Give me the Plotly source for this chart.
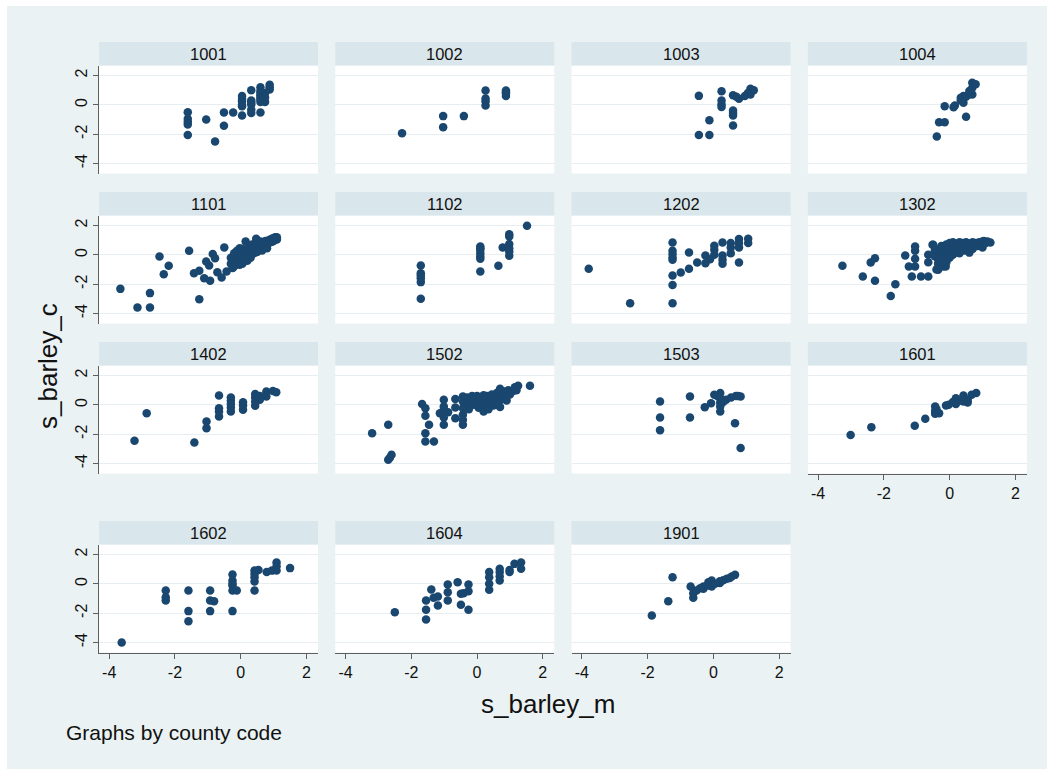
import plotly.graph_objects as go

counties = ["1001", "1002", "1003", "1004", "1101", "1102", "1202", "1302",
            "1402", "1502", "1503", "1601", "1602", "1604", "1901"]

x_1001 = [-1.61, -1.61, -1.61, -1.61, -1.61, -1.05, -0.78, -0.51, -0.51, -0.23, 0.04, 0.04, 0.04, 0.04, 0.04, 0.04,
          0.32, 0.32, 0.32, 0.32, 0.32, 0.32, 0.6, 0.6, 0.6, 0.6, 0.6, 0.6, 0.6, 0.6, 0.74, 0.74, 0.74, 0.88, 0.88, 0.88]
y_1001 = [-0.5, -0.95, -1.15, -1.34, -2.05, -1.0, -2.5, -0.52, -1.43, -0.52, 0.6, 0.25, -0.1, -0.73, 0.4, 0.0,
          1.0, 0.3, 0.02, -0.32, -0.55, 0.15, 1.2, 0.95, 0.65, 0.36, 0.2, -0.52, 0.8, 0.5, 0.8, 0.2, 0.5, 1.36, 1.05, 1.2]

x_1002 = [-2.28, -1.03, -1.03, -0.4, 0.26, 0.26, 0.26, 0.26, 0.88, 0.88, 0.88, 0.88]
y_1002 = [-1.93, -0.77, -1.52, -0.77, 0.98, 0.43, 0.25, -0.05, 0.98, 0.77, 0.6, 0.85]

x_1003 = [-0.44, -0.44, -0.12, -0.12, 0.25, 0.25, 0.25, 0.25, 0.6, 0.6, 0.6, 0.6, 0.6, 0.78, 0.96, 1.13, 1.13, 1.23, 0.7, 1.05]
y_1003 = [0.61, -2.05, -1.05, -2.05, 0.93, 0.3, 0.02, -0.14, 0.66, -0.39, -0.73, -1.41, -0.55, 0.41, 0.6, 1.09, 0.7, 1.0, 0.55, 0.8]

x_1004 = [-0.39, -0.32, -0.15, -0.15, 0.12, 0.16, 0.34, 0.34, 0.42, 0.42, 0.5, 0.59, 0.69, 0.69, 0.69, 0.79, 0.5, 0.6]
y_1004 = [-2.16, -1.18, -0.09, -1.18, -0.16, -0.05, 0.48, 0.32, 0.6, 0.14, -0.82, 0.7, 1.5, 1.16, 0.7, 1.4, 0.55, 0.95]

x_1101 = [-3.66, -3.14, -2.76, -2.76, -2.47, -2.34, -2.19, -1.57, -1.42, -1.26, -1.26, -1.11, -1.05, -0.96, -0.93,
          -0.85, -0.78, -0.71, -0.58, -0.5, -0.43, -0.23, -0.23, -0.23, -0.13, -0.13, -0.03, -0.03, -0.03,
          -0.3, -0.3, -0.25, -0.2, -0.2, -0.15, -0.1, -0.1, -0.05, 0.0, 0.0, 0.05, 0.05, 0.1, 0.1, 0.15, 0.15,
          0.2, 0.2, 0.25, 0.25, 0.3, 0.3, 0.35, 0.35, 0.4, 0.4, 0.45, 0.45, 0.47, 0.5, 0.5, 0.55, 0.55, 0.6, 0.6,
          0.65, 0.65, 0.7, 0.7, 0.75, 0.75, 0.8, 0.8, 0.85, 0.85, 0.9, 0.9, 0.95, 0.95, 1.0, 1.0, 1.05, 1.1, 1.1]
y_1101 = [-2.32, -3.59, -2.61, -3.59, -0.11, -1.32, -0.75, 0.27, -1.25, -1.09, -3.02, -1.59, -0.45, -0.73, -1.77,
          0.05, -0.23, -1.18, -1.55, 0.5, -1.14, -0.86, -0.5, -0.18, 0.23, -0.34, 0.45, -0.07, -0.68,
          -0.6, -0.2, -0.9, -0.4, 0.1, -0.7, -0.3, 0.3, -0.5, 0.0, -0.2, 0.4, -0.6, 0.1, -0.3, 0.9, -0.1,
          0.3, -0.4, 0.5, 0.0, 0.2, -0.2, 0.7, 0.4, 0.1, 0.55, 0.8, 0.3, 1.09, 0.5, 0.2, 0.7, 0.35, 0.9, 0.5,
          0.6, 0.3, 0.8, 0.55, 0.95, 0.65, 0.7, 0.45, 1.0, 0.8, 1.05, 0.85, 1.1, 0.9, 1.15, 0.95, 1.2, 1.2, 1.05]

x_1102 = [-1.71, -1.71, -1.71, -1.71, -1.71, -1.71, 0.1, 0.1, 0.1, 0.1, 0.1, 0.1, 0.1, 0.65, 0.78,
          0.98, 0.98, 0.98, 0.98, 0.98, 0.98, 1.52]
y_1102 = [-0.73, -1.25, -1.41, -1.86, -3.0, -1.6, 0.57, 0.34, 0.11, -0.11, -0.27, 0.45, -1.14, -0.75, 0.5,
          1.41, 1.25, 0.73, 0.45, 0.23, -0.07, 1.98]

x_1202 = [-3.79, -2.53, -1.24, -1.24, -1.24, -1.24, -1.24, -1.24, -1.24, -1.24, -0.99, -0.74, -0.74, -0.49,
          -0.24, -0.24, 0.03, 0.03, 0.03, 0.28, 0.28, 0.28, 0.28, 0.53, 0.53, 0.53, 0.78, 0.78, 0.78, 1.06, 1.06,
          0.78, -0.1]
y_1202 = [-0.95, -3.3, 0.84, 0.27, 0.05, -0.18, -0.34, -1.41, -2.05, -3.3, -1.2, 0.16, -0.95, -0.52,
          -0.05, -0.57, 0.61, 0.34, 0.0, 0.84, -0.05, -0.34, -0.61, 0.8, 0.5, 0.11, 1.07, 0.5, -0.52, 1.09, 0.8,
          0.8, -0.3]

x_1302 = [-3.26, -2.64, -2.4, -2.27, -2.27, -1.79, -1.65, -1.35, -1.24, -1.15, -1.05, -1.05, -1.05, -1.05,
          -0.87, -0.65, -0.65, -0.65, -0.52, -0.35, -0.12, 1.04, 1.24,
          -0.4, -0.35, -0.35, -0.3, -0.3, -0.25, -0.2, -0.2, -0.15, -0.1, -0.1, -0.05, 0.0, 0.0, 0.0, 0.05,
          0.1, 0.1, 0.1, 0.15, 0.2, 0.2, 0.25, 0.3, 0.3, 0.3, 0.35, 0.4, 0.4, 0.45, 0.5, 0.5, 0.55, 0.6, 0.6,
          0.65, 0.7, 0.7, 0.75, 0.8, 0.85, 0.9, 0.95, 1.0, 1.0, 1.1, 1.15, -0.5, -0.45, -0.45]
y_1302 = [-0.75, -1.48, -0.52, -0.23, -1.77, -2.8, -2.0, -0.05, -0.8, -1.48, 0.57, 0.27, -0.27, -0.8,
          -1.48, -1.48, -0.5, 0.0, 0.68, -1.02, -0.8, 0.95, 0.84,
          -1.0, -0.6, -0.3, 0.0, 0.4, 0.6, -0.8, -0.2, 0.2, 0.7, -0.5, 0.1, 0.8, 0.4, -0.2, 0.6,
          0.85, 0.3, 0.0, 0.5, 0.75, 0.2, 0.6, 0.85, 0.4, 0.1, 0.7, 0.5, 0.8, 0.3, 0.85, 0.6, 0.4, 0.75, 0.15,
          0.55, 0.85, 0.4, 0.65, 0.8, 0.6, 0.85, 0.7, 0.9, 0.5, 0.8, 0.9, 0.68, 0.3, -0.1]

x_1402 = [-3.23, -2.86, -1.41, -1.04, -1.04, -0.66, -0.66, -0.66, -0.66, -0.3, -0.3, -0.3, -0.3, -0.3,
          0.07, 0.07, 0.07, 0.44, 0.44, 0.44, 0.44, 0.58, 0.58, 0.78, 0.78, 0.98, 1.08]
y_1402 = [-2.45, -0.57, -2.57, -1.14, -1.59, 0.64, -0.23, -0.45, -0.8, 0.5, 0.27, 0.05, -0.18, -0.45,
          0.18, -0.05, -0.34, 0.73, 0.5, 0.23, -0.07, 0.61, 0.34, 0.91, 0.57, 0.95, 0.86]

x_1502 = [-3.19, -2.7, -2.7, -2.65, -2.6, -1.67, -1.57, -1.57, -1.57, -1.57, -1.46, -1.31, -1.13, -1.01, -1.01,
          -1.01, -1.01, -1.01, -0.88, -0.66, -0.66, -0.66, -0.43, -0.43, -0.43, -0.43, -0.43, -0.43, 1.61,
          -0.3, -0.3, -0.25, -0.2, -0.15, -0.1, -0.05, 0.0, 0.0, 0.05, 0.1, 0.15, 0.15, 0.2, 0.2, 0.25, 0.3,
          0.3, 0.35, 0.4, 0.4, 0.45, 0.5, 0.5, 0.55, 0.6, 0.6, 0.65, 0.7, 0.7, 0.75, 0.8, 0.85, 0.9, 0.9, 0.95,
          1.0, 1.05, 1.1, 1.15, 1.2, 1.25, 0.7]
y_1502 = [-1.93, -1.36, -3.75, -3.6, -3.41, 0.05, -0.23, -0.75, -1.93, -2.5, -1.36, -2.5, -0.57, 0.34, -0.11,
          -0.34, -0.86, -1.36, -0.5, 0.39, -0.18, -0.91, 0.57, 0.23, -0.23, -0.68, -1.02, -1.36, 1.3,
          0.5, 0.1, -0.3, 0.3, 0.6, 0.0, 0.4, 0.6, 0.2, -0.2, 0.5, 0.3, 0.0, 0.65, -0.45, 0.4, 0.1,
          0.6, -0.3, 0.5, 0.2, 0.7, 0.35, -0.05, 0.6, 0.3, 0.8, 0.1, 0.5, -0.15, 0.75, 0.4, 0.9, 0.6, 0.3, 1.0,
          0.7, 0.9, 0.95, 1.2, 1.0, 1.3, 1.1]

x_1503 = [-1.62, -1.62, -1.62, -0.71, -0.71, -0.26, -0.07, 0.03, 0.21, 0.21, 0.21, 0.21, 0.21, 0.39, 0.54,
          0.66, 0.69, 0.83, 0.3, 0.12, 0.75, 0.83]
y_1503 = [0.23, -0.86, -1.73, 0.57, -0.86, -0.16, 0.11, 0.68, 0.8, 0.45, 0.16, -0.11, -0.45, 0.34, 0.5,
          -1.25, 0.61, 0.57, 0.2, 0.6, 0.6, -2.95]

x_1601 = [-3.01, -2.38, -1.06, -0.74, -0.44, -0.44, -0.44, -0.32, -0.11, -0.03, 0.19, 0.19, 0.3, 0.42, 0.42,
          0.55, 0.55, 0.67, 0.81, -0.4, 0.1]
y_1601 = [-2.05, -1.52, -1.43, -0.95, -0.11, -0.41, -0.61, -0.57, -0.05, 0.0, 0.45, 0.05, 0.27, 0.64, 0.23,
          0.34, 0.16, 0.68, 0.8, -0.3, 0.2]

x_1602 = [-3.62, -2.28, -2.28, -2.28, -1.59, -1.59, -1.59, -0.93, -0.93, -0.93, -0.81, -0.25, -0.25, -0.25,
          -0.25, -0.25, -0.12, 0.42, 0.42, 0.42, 0.42, 0.42, 0.54, 0.79, 1.09, 1.09, 1.09, 1.5, 0.95, -0.25]
y_1602 = [-4.0, -0.45, -0.91, -1.14, -0.45, -1.86, -2.55, -0.45, -1.14, -1.86, -1.18, 0.64, 0.23, -0.11,
          -0.45, -1.86, -0.45, 0.91, 0.68, 0.45, 0.16, -0.45, 0.95, 0.8, 1.45, 1.2, 0.91, 1.07, 0.9, 0.0]

x_1604 = [-2.5, -1.55, -1.55, -1.55, -1.39, -1.32, -1.19, -1.19, -0.89, -0.89, -0.89, -0.59, -0.49, -0.49,
          -0.41, -0.26, -0.26, -0.26, 0.37, 0.37, 0.37, 0.37, 0.69, 0.69, 0.69, 0.69, 0.99, 0.99, 1.14, 1.34, 1.34]
y_1604 = [-1.93, -1.14, -1.77, -2.43, -0.39, -0.95, -0.86, -1.48, -0.05, -0.57, -1.14, 0.11, -0.68, -1.43,
          -0.64, -0.05, -0.5, -1.77, 0.8, 0.45, 0.0, -0.41, 1.02, 0.8, 0.52, 0.23, 0.95, 0.8, 1.36, 1.45, 1.02]

x_1901 = [-1.87, -1.37, -1.24, -0.69, -0.61, -0.61, -0.51, -0.3, -0.3, -0.15, -0.15, -0.05, -0.05, 0.2, 0.2,
          0.41, 0.56, 0.66, -0.4, 0.05, 0.3, 0.5]
y_1901 = [-2.16, -1.18, 0.45, -0.18, -0.64, -0.95, -0.45, -0.34, -0.18, 0.11, -0.11, 0.23, -0.18, 0.18, 0.05,
          0.34, 0.5, 0.61, -0.3, 0.0, 0.25, 0.4]

series_x = [x_1001, x_1002, x_1003, x_1004, x_1101, x_1102, x_1202, x_1302,
            x_1402, x_1502, x_1503, x_1601, x_1602, x_1604, x_1901]
series_y = [y_1001, y_1002, y_1003, y_1004, y_1101, y_1102, y_1202, y_1302,
            y_1402, y_1502, y_1503, y_1601, y_1602, y_1604, y_1901]

tick_vals = [-4, -2, 0, 2]
tick_text = ["-4", "-2", "0", "2"]

x_title = "s_barley_m"
y_title = "s_barley_c"
note_text = "Graphs by county code"

# ---- geometry (pixels) ----
W, H = 1052, 769
col_left = [99, 335.3, 571.6, 807.9]
panel_w = 219
header_top = [42, 192, 342, 521]
header_h = 23.5
plot_h = 108

BG = "#EAF2F3"
HEAD = "#D9E6EB"
MARK = "#1A476F"
AXC = "#5f5f5f"
FONT = "Liberation Sans, Arial, sans-serif"


def fx(px):
    return px / W


def fy(py):
    return 1 - py / H


fig = go.Figure()
layout = dict(
    width=W, height=H,
    margin=dict(l=0, r=0, t=0, b=0),
    paper_bgcolor=BG, plot_bgcolor="white",
    showlegend=False,
    font=dict(family=FONT, color="#111111"),
)
shapes = [
    dict(type="rect", xref="paper", yref="paper", x0=0, x1=fx(7), y0=0, y1=1,
         fillcolor="white", line=dict(width=0), layer="below"),
    dict(type="rect", xref="paper", yref="paper", x0=0, x1=1, y0=fy(6), y1=1,
         fillcolor="white", line=dict(width=0), layer="below"),
    dict(type="rect", xref="paper", yref="paper", x0=fx(1047), x1=1, y0=0, y1=1,
         fillcolor="white", line=dict(width=0), layer="below"),
]
annotations = []

for i, c in enumerate(counties):
    if i < 12:
        r, col = divmod(i, 4)
    else:
        r, col = 3, i - 12
    left = col_left[col]
    ptop = header_top[r] + header_h
    pbot = ptop + plot_h
    sfx = "" if i == 0 else str(i + 1)
    show_x = (r == 3) or (c == "1601")
    show_y = (col == 0)
    layout["xaxis" + sfx] = dict(
        domain=[fx(left), fx(left + panel_w)], anchor="y" + sfx,
        range=[-4.31, 2.35], tickvals=tick_vals, ticktext=tick_text,
        showgrid=False, zeroline=False,
        showline=show_x, linecolor=AXC, linewidth=1,
        ticks="outside" if show_x else "", ticklen=5, tickcolor=AXC,
        showticklabels=show_x, tickfont=dict(size=16, family=FONT, color="#111111"),
    )
    layout["yaxis" + sfx] = dict(
        domain=[fy(pbot), fy(ptop)], anchor="x" + sfx,
        range=[-4.68, 2.68], tickvals=tick_vals, ticktext=tick_text,
        showgrid=True, gridcolor="#E6EEF1", gridwidth=1, zeroline=False,
        showline=show_y, linecolor=AXC, linewidth=1,
        ticks="outside" if show_y else "", ticklen=5, tickcolor=AXC,
        showticklabels=show_y, tickangle=-90,
        tickfont=dict(size=16, family=FONT, color="#111111"),
    )
    fig.add_trace(go.Scatter(
        x=series_x[i], y=series_y[i], mode="markers",
        marker=dict(color=MARK, size=8.5, line=dict(width=0)),
        xaxis="x" + sfx, yaxis="y" + sfx, cliponaxis=False,
    ))
    shapes.append(dict(type="rect", xref="paper", yref="paper",
                       x0=fx(left), x1=fx(left + panel_w),
                       y0=fy(header_top[r] + header_h), y1=fy(header_top[r]),
                       fillcolor=HEAD, line=dict(width=0), layer="below"))
    annotations.append(dict(text=c, xref="paper", yref="paper",
                            x=fx(left + panel_w / 2), y=fy(header_top[r] + header_h / 2),
                            xanchor="center", yanchor="middle", showarrow=False,
                            font=dict(size=16.5, family=FONT, color="#111111")))

annotations.append(dict(text=y_title, xref="paper", yref="paper", x=fx(48), y=fy(366),
                        xanchor="center", yanchor="middle", textangle=-90, showarrow=False,
                        font=dict(size=26, family=FONT, color="#111111")))
annotations.append(dict(text=x_title, xref="paper", yref="paper", x=fx(547.5), y=fy(704),
                        xanchor="center", yanchor="middle", showarrow=False,
                        font=dict(size=26, family=FONT, color="#111111")))
annotations.append(dict(text=note_text, xref="paper", yref="paper", x=fx(64), y=fy(732),
                        xanchor="left", yanchor="middle", showarrow=False,
                        font=dict(size=21, family=FONT, color="#111111")))

layout["shapes"] = shapes
layout["annotations"] = annotations
fig.update_layout(**layout)

fig.write_html("out.html", config={"displayModeBar": False},
               post_script="document.body.style.margin='0';")
